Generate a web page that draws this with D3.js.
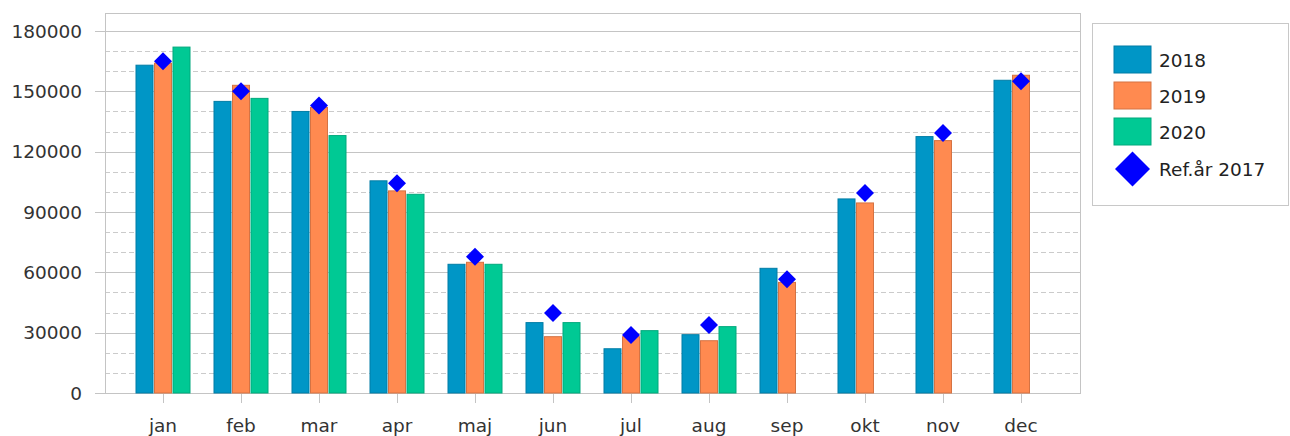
<!DOCTYPE html>
<html>
<head>
<meta charset="utf-8">
<script src="https://cdn.jsdelivr.net/npm/d3@7"></script>
<style>
  html, body { margin: 0; padding: 0; background: #fff; }
  svg { display: block; }
  text { font-family: "DejaVu Sans", Verdana, sans-serif; fill: #333; }
</style>
</head>
<body>
<svg id="chart" width="1290" height="436"></svg>
<script>
const months = ["jan","feb","mar","apr","maj","jun","jul","aug","sep","okt","nov","dec"];
const seriesNames = ["2018","2019","2020"];
const values2018 = [163000,145000,140000,105500,64000,35000,22000,29000,62000,96500,127500,155500];
const values2019 = [164000,153000,142000,100500,65000,28000,28000,26000,55000,94500,125500,158000];
const values2020 = [172000,146500,128000,98800,64000,35000,31000,33000,null,null,null,null];
const ref2017    = [165000,150000,143000,104300,67800,39800,28800,33800,56500,99500,129300,155000];
const refName = "Ref.år 2017";
const yTicks = [0,30000,60000,90000,120000,150000,180000];
const colors = ["#0096c6","#ff8a50","#00c994"];
const refColor = "#0000ff";

const svg = d3.select("#chart");
const plot = {left:105, right:1080, top:13, bottom:393};

const y = d3.scaleLinear().domain([0,180000]).range([393,31]);
const x0 = d3.scaleBand().domain(months).range([124,1060]).padding(0);
const x1 = d3.scaleBand().domain(seriesNames).range([-27,27]).paddingInner(0.081).paddingOuter(0);

// minor dashed gridlines
const minor = d3.range(10000, 190000, 10000).filter(v => v % 30000 !== 0);
svg.append("g").selectAll("line").data(minor).join("line")
  .attr("x1", plot.left).attr("x2", plot.right)
  .attr("y1", d => Math.round(y(d)) + 0.5).attr("y2", d => Math.round(y(d)) + 0.5)
  .attr("stroke", "#cbcbcb").attr("stroke-dasharray", "5,3");

// major gridlines with left tick extension
svg.append("g").selectAll("line").data(yTicks).join("line")
  .attr("x1", plot.left - 10).attr("x2", plot.right)
  .attr("y1", d => Math.round(y(d)) + 0.5).attr("y2", d => Math.round(y(d)) + 0.5)
  .attr("stroke", "#c4c4c4");

// plot frame
svg.append("rect")
  .attr("x", plot.left + 0.5).attr("y", plot.top + 0.5)
  .attr("width", plot.right - plot.left).attr("height", plot.bottom - plot.top)
  .attr("fill", "none").attr("stroke", "#c4c4c4");

// y labels
svg.append("g").selectAll("text").data(yTicks).join("text")
  .attr("x", 82).attr("y", d => y(d))
  .attr("text-anchor", "end").attr("dominant-baseline", "central")
  .style("font-size", "18.5px")
  .text(d => d);

// x ticks
svg.append("g").selectAll("line").data(months).join("line")
  .attr("x1", d => Math.round(x0(d) + x0.bandwidth()/2) + 0.5)
  .attr("x2", d => Math.round(x0(d) + x0.bandwidth()/2) + 0.5)
  .attr("y1", plot.bottom + 1).attr("y2", plot.bottom + 10)
  .attr("stroke", "#c4c4c4");

svg.append("g").selectAll("text").data(months).join("text")
  .attr("x", d => x0(d) + x0.bandwidth()/2).attr("y", 432)
  .attr("text-anchor", "middle")
  .style("font-size", "18.5px")
  .text(d => d);

// bars
const allSeries = [values2018, values2019, values2020];
seriesNames.forEach((s, si) => {
  svg.append("g").selectAll("rect")
    .data(months.map((m, i) => ({m, v: allSeries[si][i]})).filter(d => d.v != null))
    .join("rect")
    .attr("x", d => x0(d.m) + x0.bandwidth()/2 + x1(s))
    .attr("y", d => y(d.v))
    .attr("width", x1.bandwidth())
    .attr("height", d => y(0) - y(d.v))
    .attr("fill", colors[si])
    .attr("stroke", d3.color(colors[si]).darker(0.5))
    .attr("stroke-width", 1);
});

// reference diamonds
const dpath = r => `M0,${-r}L${r},0L0,${r}L${-r},0Z`;
svg.append("g").selectAll("path").data(months.map((m, i) => ({m, v: ref2017[i]})))
  .join("path")
  .attr("transform", d => `translate(${x0(d.m) + x0.bandwidth()/2},${y(d.v)})`)
  .attr("d", dpath(9))
  .attr("fill", refColor);

// legend
const lg = svg.append("g");
lg.append("rect").attr("x", 1092.5).attr("y", 23.5).attr("width", 196).attr("height", 182)
  .attr("fill", "#fff").attr("stroke", "#c8c8c8");
seriesNames.forEach((s, i) => {
  const yy = 46 + i * 36;
  lg.append("rect").attr("x", 1114).attr("y", yy).attr("width", 37).attr("height", 27)
    .attr("fill", colors[i]).attr("stroke", d3.color(colors[i]).darker(0.5));
  lg.append("text").attr("x", 1159).attr("y", yy + 14).attr("dominant-baseline", "central")
    .style("font-size", "18.5px").style("fill", "#222").text(s);
});
lg.append("path").attr("transform", "translate(1132.5,169)").attr("d", dpath(17.5)).attr("fill", refColor);
lg.append("text").attr("x", 1159).attr("y", 169).attr("dominant-baseline", "central")
  .style("font-size", "18.5px").style("fill", "#222").text(refName);
</script>
</body>
</html>
